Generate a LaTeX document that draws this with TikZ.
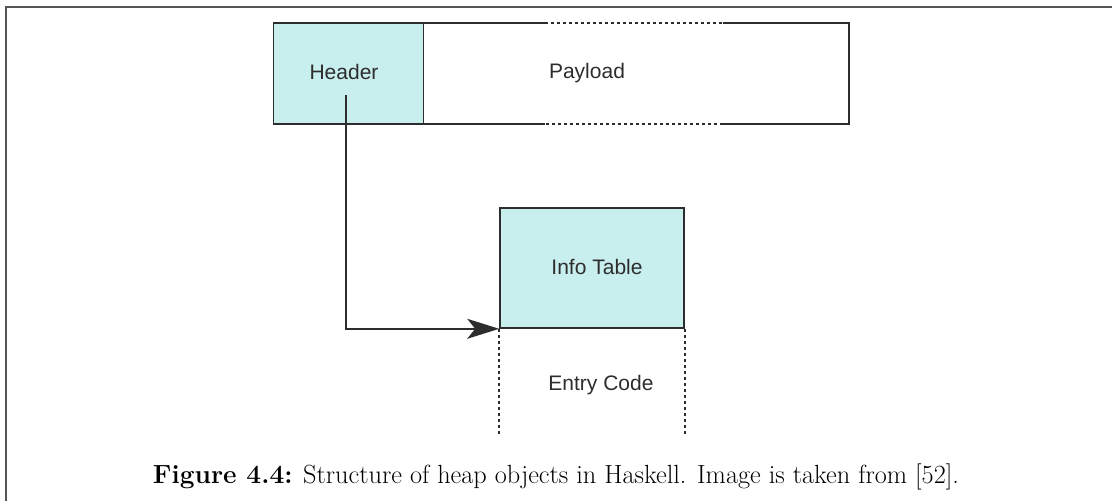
\documentclass[tikz,border=0pt]{standalone}
\usepackage{fontspec}
\newfontfamily\labelfont{Liberation Sans}
\usetikzlibrary{arrows.meta}
\definecolor{cellfill}{RGB}{200,238,238}
\definecolor{linegray}{RGB}{45,45,45}
\definecolor{framegray}{RGB}{85,85,85}

\begin{document}
\begin{tikzpicture}[x=1pt,y=-1pt,
		lbl/.style={font=\labelfont\fontsize{21}{25}\selectfont,text=linegray},
		cell/.style={draw=linegray,line width=1.6pt,fill=cellfill,inner sep=0pt},
		edge/.style={draw=linegray,line width=1.6pt},
		gap/.style={draw=linegray,line width=1.6pt,dash pattern=on 3pt off 3pt},
		link/.style={draw=linegray,line width=1.6pt,-{Stealth[length=32pt,width=20pt,inset=8pt]}}]
		\useasboundingbox (0,0) rectangle (1112,501);
		\draw[framegray,line width=1.5pt] (1112,7) -- (6,7) -- (6,501);

		\node[cell,minimum width=150pt,minimum height=101pt] (header) at (348.5,73.5) {};
		\node[minimum width=426pt,minimum height=101pt,inner sep=0pt] (payload) at (636,73.5) {};
		\node[cell,minimum width=184pt,minimum height=120pt] (info) at (592,268) {};

		\node[lbl] (headertext) at (344,72) {Header};
		\node[lbl] (payloadtext) at (587,73) {Payload};
		\node[lbl] (infotext) at (597,267) {Info Table};
		\node[lbl] (entry) at (601,385) {Entry Code};

		\node[anchor=base] (caption) at (556,483) {\fontsize{26.3}{31}\selectfont\textbf{Figure 4.4:} Structure of heap objects in Haskell. Image is taken from [52].};

		\draw[edge] (payload.north west) -- ([xshift=122pt]payload.north west);
		\draw[gap] ([xshift=122pt]payload.north west) -- ([xshift=-126pt]payload.north east);
		\draw[edge] ([xshift=-126pt]payload.north east) -- (payload.north east) -- (payload.south east) -- ([xshift=-126pt]payload.south east);
		\draw[gap] ([xshift=-126pt]payload.south east) -- ([xshift=122pt]payload.south west);
		\draw[edge] ([xshift=122pt]payload.south west) -- (payload.south west);

		\draw[gap] (info.south west) -- ++(0,105);
		\draw[gap] (info.south east) -- ++(0,105);

		\draw[link] ([xshift=-2.5pt,yshift=-21.5pt]header.center) |- (info.south west);
	\end{tikzpicture}
\end{document}
